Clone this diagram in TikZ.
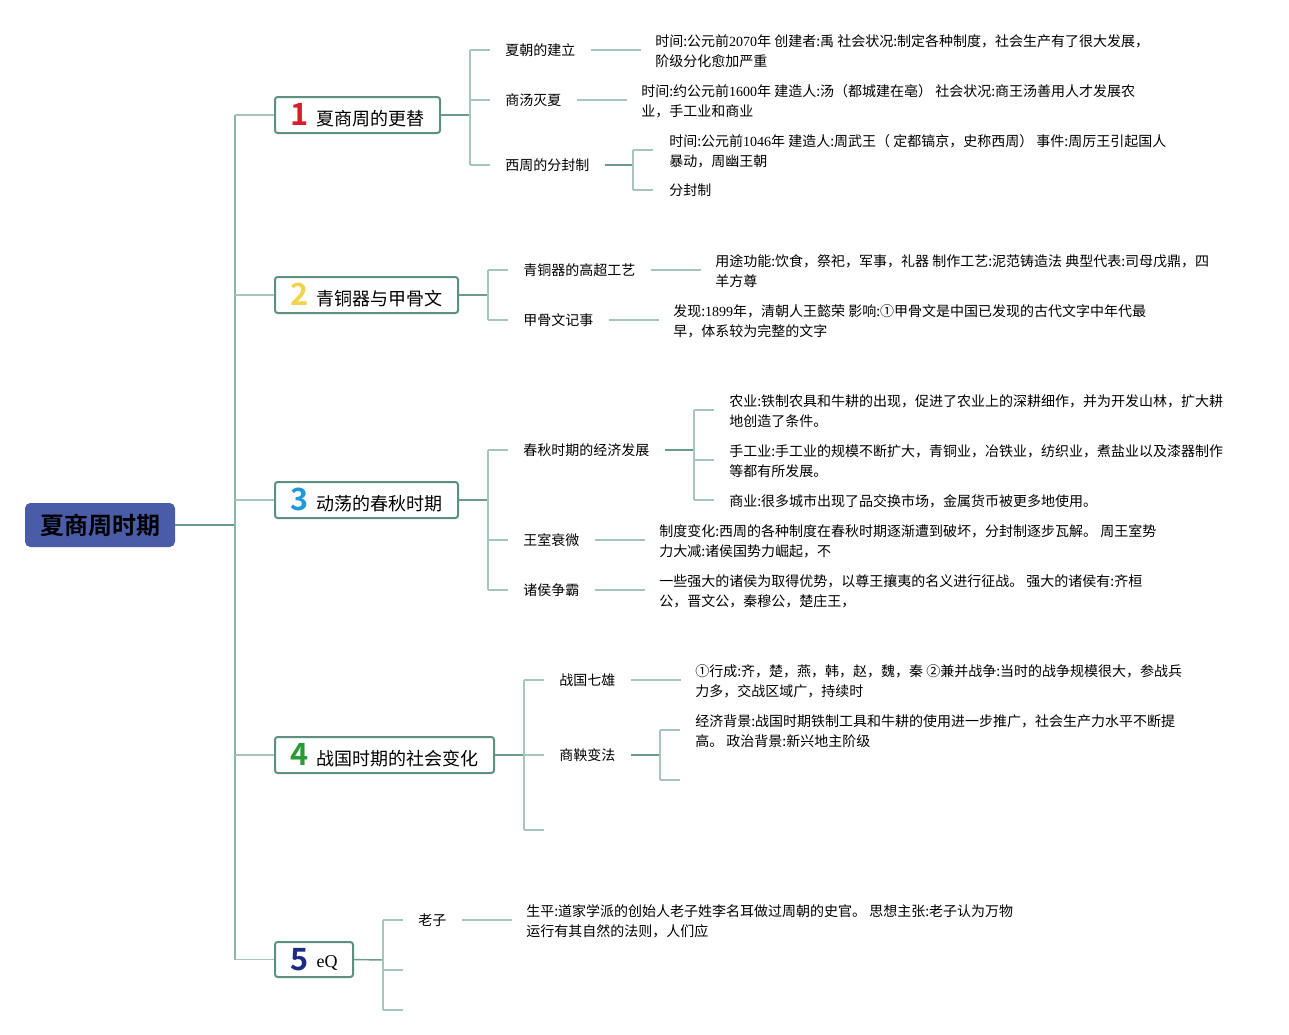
\documentclass[tikz,border=0pt]{standalone}
\usepackage{fontspec}
\setmainfont{Noto Sans CJK SC}[BoldFont={Noto Sans CJK SC Bold}]
\newfontfamily\sr{Liberation Serif}
\usetikzlibrary{calc}
\definecolor{lnL}{HTML}{A6C6BA}
\definecolor{lnD}{HTML}{6A9C8A}
\definecolor{lnM}{HTML}{8DB5A6}
\definecolor{boxB}{HTML}{5E9080}
\definecolor{rootF}{HTML}{4A5CA8}
\definecolor{nA}{HTML}{D81E2C}
\definecolor{nB}{HTML}{F3D34A}
\definecolor{nC}{HTML}{1E9AD8}
\definecolor{nD}{HTML}{2A9A34}
\definecolor{nE}{HTML}{1C2C84}
\newcommand\bnum[2]{{\fontsize{23}{23}\selectfont\bfseries\color{#1}#2}\hspace{6pt}}
\tikzset{
  light/.style={draw=lnL, line width=1.1pt},
  dark/.style={draw=lnD, line width=1.1pt},
  mid/.style={draw=lnM, line width=1.1pt},
  rootbox/.style={fill=rootF, rounded corners=4pt, minimum width=112.5pt, minimum height=33pt, inner sep=0pt, font=\fontsize{18}{20}\selectfont\bfseries},
  topic/.style={draw=boxB, line width=1.5pt, fill=white, rounded corners=2pt, minimum height=27pt, inner sep=0pt, font=\fontsize{13.5}{15}\selectfont},
  lab/.style={anchor=west, inner sep=0pt, font=\fontsize{10.5}{15}\selectfont},
  leaf/.style={anchor=west, inner sep=0pt, align=left, font=\fontsize{10.5}{15}\selectfont},
}
\begin{document}
\begin{tikzpicture}[x=0.75pt, y=-0.75pt]
\useasboundingbox (0,0) rectangle (1289,1035);
% root
\node[rootbox] (root) at (100,525) {夏商周时期};
\coordinate (mj) at (235,525);
\coordinate (vt) at (235,115);
\coordinate (vb) at (235,960);
% topics
\node[topic, minimum width=123.75pt] (b1) at (357.5,115) {\bnum{nA}{1}夏商周的更替};
\node[topic, minimum width=137.25pt] (b2) at (366.5,295) {\bnum{nB}{2}青铜器与甲骨文};
\node[topic, minimum width=137.25pt] (b3) at (366.5,500) {\bnum{nC}{3}动荡的春秋时期};
\node[topic, minimum width=164.25pt] (b4) at (384.5,755) {\bnum{nD}{4}战国时期的社会变化};
\node[topic, minimum width=58.5pt, minimum height=26.25pt] (b5) at (314,959.5) {\bnum{nE}{5}\raisebox{2pt}{\sr eQ}};
\draw[dark] (root.east) -- (mj);
\draw[mid] (vt) -- (vb);
\draw[light] (vt) -- (b1.west);
\draw[light] (vt |- b2.west) -- (b2.west);
\draw[light] (vt |- b3.west) -- (b3.west);
\draw[light] (vt |- b4.west) -- (b4.west);
\draw[light] (vt |- b5.west) -- (b5.west);

% ---------- branch 1
\coordinate (j1) at (470,115);
\node[lab] (l11) at (505,50) {夏朝的建立};
\node[lab] (l12) at (505,100) {商汤灭夏};
\node[lab] (l13) at (505,165) {西周的分封制};
\node[leaf] (t11) at (655,51) {时间:公元前{\sr 2070}年 创建者:禹 社会状况:制定各种制度，社会生产有了很大发展，\\阶级分化愈加严重};
\node[leaf] (t12) at (641,101) {时间:约公元前{\sr 1600}年 建造人:汤（都城建在亳） 社会状况:商王汤善用人才发展农\\业，手工业和商业};
\node[leaf] (t131) at (669,151) {时间:公元前{\sr 1046}年 建造人:周武王（ 定都镐京，史称西周） 事件:周厉王引起国人\\暴动，周幽王朝};
\node[leaf] (t132) at (669,190) {分封制};
\coordinate (j13) at (633,165);
\draw[dark] (b1.east) -- (j1);
\draw[light] (j1 |- l11.west) -- (j1 |- l13.west);
\draw[light] (j1 |- l11.west) -- ($(l11.west)+(-15,0)$);
\draw[light] (j1 |- l12.west) -- ($(l12.west)+(-15,0)$);
\draw[light] (j1 |- l13.west) -- ($(l13.west)+(-15,0)$);
\draw[light] ($(l11.east)+(15,0)$) -- ($(l11.east)+(65,0)$);
\draw[light] ($(l12.east)+(15,0)$) -- ($(l12.east)+(65,0)$);
\draw[dark] ($(l13.east)+(15,0)$) -- (j13);
\draw[light] (633,150) -- (633,190);
\draw[light] (633,150) -- (653,150);
\draw[light] (633,190) -- (653,190);

% ---------- branch 2
\coordinate (j2) at (488,295);
\node[lab] (l21) at (523,270) {青铜器的高超工艺};
\node[lab] (l22) at (523,320) {甲骨文记事};
\node[leaf] (t21) at (715,271) {用途功能:饮食，祭祀，军事，礼器 制作工艺:泥范铸造法 典型代表:司母戊鼎，四\\羊方尊};
\node[leaf] (t22) at (673,321) {发现:{\sr 1899}年，清朝人王懿荣 影响:①甲骨文是中国已发现的古代文字中年代最\\早，体系较为完整的文字};
\draw[dark] (b2.east) -- (j2);
\draw[light] (j2 |- l21.west) -- (j2 |- l22.west);
\draw[light] (j2 |- l21.west) -- ($(l21.west)+(-15,0)$);
\draw[light] (j2 |- l22.west) -- ($(l22.west)+(-15,0)$);
\draw[light] ($(l21.east)+(15,0)$) -- ($(l21.east)+(65,0)$);
\draw[light] ($(l22.east)+(15,0)$) -- ($(l22.east)+(65,0)$);

% ---------- branch 3
\coordinate (j3) at (488,500);
\node[lab] (l31) at (523,450) {春秋时期的经济发展};
\node[lab] (l32) at (523,540) {王室衰微};
\node[lab] (l33) at (523,590) {诸侯争霸};
\node[leaf] (t311) at (729,411) {农业:铁制农具和牛耕的出现，促进了农业上的深耕细作，并为开发山林，扩大耕\\地创造了条件。};
\node[leaf] (t312) at (729,461) {手工业:手工业的规模不断扩大，青铜业，冶铁业，纺织业，煮盐业以及漆器制作\\等都有所发展。};
\node[leaf] (t313) at (729,501) {商业:很多城市出现了品交换市场，金属货币被更多地使用。};
\node[leaf] (t32) at (659,541) {制度变化:西周的各种制度在春秋时期逐渐遭到破坏，分封制逐步瓦解。 周王室势\\力大减:诸侯国势力崛起，不};
\node[leaf] (t33) at (659,591) {一些强大的诸侯为取得优势，以尊王攘夷的名义进行征战。 强大的诸侯有:齐桓\\公，晋文公，秦穆公，楚庄王，};
\coordinate (j31) at (694,450);
\draw[dark] (b3.east) -- (j3);
\draw[light] (j3 |- l31.west) -- (j3 |- l33.west);
\draw[light] (j3 |- l31.west) -- ($(l31.west)+(-15,0)$);
\draw[light] (j3 |- l32.west) -- ($(l32.west)+(-15,0)$);
\draw[light] (j3 |- l33.west) -- ($(l33.west)+(-15,0)$);
\draw[dark] ($(l31.east)+(15,0)$) -- (j31);
\draw[light] (694,410) -- (694,500);
\draw[light] (694,410) -- (714,410);
\draw[light] (694,460) -- (714,460);
\draw[light] (694,500) -- (714,500);
\draw[light] ($(l32.east)+(15,0)$) -- ($(l32.east)+(65,0)$);
\draw[light] ($(l33.east)+(15,0)$) -- ($(l33.east)+(65,0)$);

% ---------- branch 4
\coordinate (j4) at (524,755);
\node[lab] (l41) at (559,680) {战国七雄};
\node[lab] (l42) at (559,755) {商鞅变法};
\coordinate (l43) at (544,830);
\node[leaf] (t41) at (695,681) {①行成:齐，楚，燕，韩，赵，魏，秦 ②兼并战争:当时的战争规模很大，参战兵\\力多，交战区域广，持续时};
\node[leaf] (t42) at (695,731) {经济背景:战国时期铁制工具和牛耕的使用进一步推广，社会生产力水平不断提\\高。 政治背景:新兴地主阶级};
\coordinate (j42) at (660,755);
\draw[dark] (b4.east) -- (j4);
\draw[light] (j4 |- l41.west) -- (j4 |- l43);
\draw[light] (j4 |- l41.west) -- ($(l41.west)+(-15,0)$);
\draw[light] (j4 |- l42.west) -- ($(l42.west)+(-15,0)$);
\draw[light] (j4 |- l43) -- (l43);
\draw[light] ($(l41.east)+(15,0)$) -- ($(l41.east)+(65,0)$);
\draw[dark] ($(l42.east)+(15,0)$) -- (j42);
\draw[light] (660,730) -- (660,780);
\draw[light] (660,730) -- (680,730);
\draw[light] (660,780) -- (680,780);

% ---------- branch 5
\coordinate (j5) at (383,960);
\node[lab] (l51) at (418,920) {老子};
\coordinate (l52) at (403,970);
\coordinate (l53) at (403,1010);
\node[leaf] (t51) at (526,921) {生平:道家学派的创始人老子姓李名耳做过周朝的史官。 思想主张:老子认为万物\\运行有其自然的法则，人们应};
\draw[dark] (b5.east) -- (j5);
\draw[light] (j5 |- l51.west) -- (j5 |- l53);
\draw[light] (j5 |- l51.west) -- ($(l51.west)+(-15,0)$);
\draw[light] (j5 |- l52) -- (l52);
\draw[light] (j5 |- l53) -- (l53);
\draw[light] ($(l51.east)+(15,0)$) -- ($(l51.east)+(65,0)$);
\end{tikzpicture}
\end{document}
